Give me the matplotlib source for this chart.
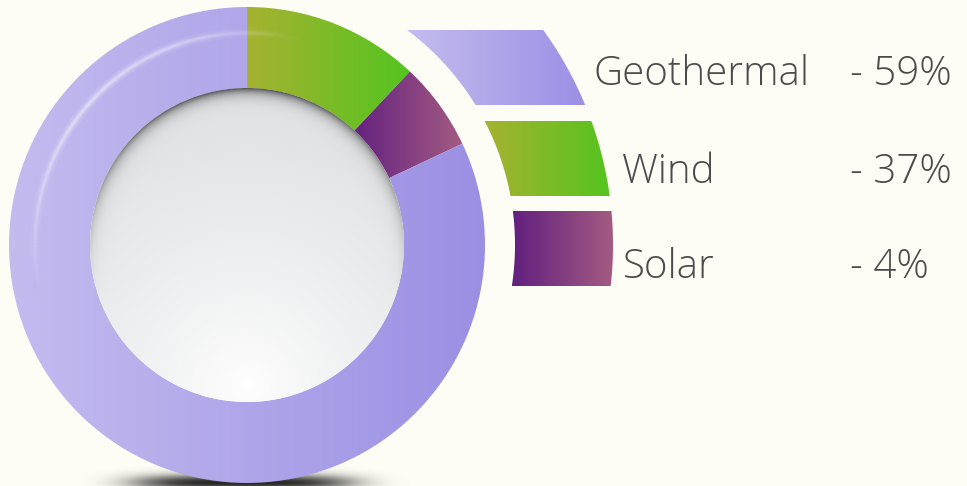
import numpy as np
import matplotlib
matplotlib.use("Agg")
import matplotlib.pyplot as plt
from matplotlib.patches import Circle, Polygon
from matplotlib.collections import LineCollection
from matplotlib.colors import to_rgb

# slice sizes as drawn in the picture (clockwise from 12 o'clock)
sources = ["Wind", "Solar", "Geothermal"]
slice_share = [12, 6, 82]
# legend text as printed
legend_names = ["Geothermal", "Wind", "Solar"]
legend_pcts = ["- 59%", "- 37%", "- 4%"]

grad = {
    "Geothermal": ("#c4bcef", "#9b8fe4"),
    "Wind": ("#a6b231", "#54c41f"),
    "Solar": ("#61207f", "#a45b82"),
}

W, H = 967, 486
BG = "#fefdf5"
cx, cy = 247, H - 245
R_out, R_in = 238, 157

fig = plt.figure(figsize=(W / 100, H / 100), dpi=100, facecolor=BG)
ax = fig.add_axes([0, 0, 1, 1])
ax.set_facecolor(BG)


def hgrad(ax, x0, x1, y0, y1, c0, c1, clip, z):
    c0, c1 = np.array(to_rgb(c0)), np.array(to_rgb(c1))
    t = np.linspace(0, 1, 256)[None, :, None]
    img = c0 + (c1 - c0) * t
    im = ax.imshow(img, extent=[x0, x1, y0, y1], origin="lower",
                   aspect="auto", zorder=z, interpolation="bilinear")
    im.set_clip_path(clip)


# soft shadow under the ring
xs = np.linspace(60, 440, 380)
ys = np.linspace(0, 40, 40)
X, Y = np.meshgrid(xs, ys)
a = np.exp(-((X - 243) / 110) ** 4 - ((Y - 3) / 8) ** 2) * 0.85
sh = np.zeros(X.shape + (4,))
sh[..., 3] = a
ax.imshow(sh, extent=[60, 440, 0, 40], origin="lower", aspect="auto", zorder=1)

# donut
wedges, _ = ax.pie(slice_share, radius=R_out, center=(cx, cy), startangle=90,
                   counterclock=False, frame=True,
                   wedgeprops=dict(width=R_out - R_in, linewidth=0))
x_ranges = {"Geothermal": (cx - R_out, cx + R_out), "Wind": (cx, 410), "Solar": (350, 463)}
for w, name in zip(wedges, sources):
    w.set_facecolor("none")
    w.set_zorder(2)
    x0, x1 = x_ranges[name]
    hgrad(ax, x0, x1, cy - R_out, cy + R_out, *grad[name], w, 2)

# gloss streak on the ring
th = np.linspace(np.radians(196), np.radians(73), 200)
r_g = 212
pts = np.column_stack([cx + r_g * np.cos(th), cy + r_g * np.sin(th)])
segs = np.stack([pts[:-1], pts[1:]], axis=1)
u = np.linspace(0, 1, len(segs))
al = np.sin(np.pi * u) ** 1.2
for lw, k in [(7, 0.12), (4, 0.18), (2, 0.3)]:
    lc = LineCollection(segs, colors=[(1, 1, 1, k * v) for v in al],
                        linewidths=lw, capstyle="butt", zorder=3)
    ax.add_collection(lc)

# inner dish
xs = np.arange(cx - R_in, cx + R_in + 1)
ys = np.arange(cy - R_in, cy + R_in + 1)
X, Y = np.meshgrid(xs, ys)
D = np.hypot(X - cx, Y - cy)
dl = np.hypot(X - cx, Y - (H - 385))
light = np.clip(dl / 250, 0, 1) ** 0.8
top = np.array(to_rgb("#e3e4e6"))
bot = np.array(to_rgb("#ffffff"))
img = bot + (top - bot) * light[..., None]
edge = R_in - D
tt = (Y - cy) / R_in
f = np.clip((tt + 0.35) / 1.35, 0, 1) ** 1.4
dark = 0.72 * f * np.exp(-np.clip(edge, 0, None) / 6)
img = img * (1 - dark[..., None])
dish = Circle((cx, cy), R_in, facecolor="none", edgecolor="none")
ax.add_patch(dish)
im = ax.imshow(img, extent=[xs[0], xs[-1], ys[0], ys[-1]], origin="lower",
               aspect="auto", zorder=4, interpolation="bilinear")
im.set_clip_path(dish)

# legend bands: parts of an outer ring cut into horizontal strips
r_a, r_b = 268, 366
strips = {"Geothermal": (30, 105), "Wind": (121, 196), "Solar": (211, 286)}
for name in legend_names:
    top_px, bot_px = strips[name]
    yy = np.linspace(H - bot_px, H - top_px, 60)
    xl = cx + np.sqrt(r_a ** 2 - (yy - cy) ** 2)
    xr = cx + np.sqrt(r_b ** 2 - (yy - cy) ** 2)
    poly = Polygon(np.vstack([np.column_stack([xl, yy]),
                              np.column_stack([xr[::-1], yy[::-1]])]),
                   closed=True, facecolor="none", edgecolor="none")
    ax.add_patch(poly)
    hgrad(ax, xl.min(), xr.max(), H - bot_px, H - top_px, *grad[name], poly, 2)

# legend text
name_x = [593, 622, 623]
base_y = [85, 183, 278]
txt = dict(fontsize=29, color="#4b4b4b", family="Open Sans", fontweight="light",
           va="baseline", ha="left", zorder=5)
for nm, pc, x, y in zip(legend_names, legend_pcts, name_x, base_y):
    ax.text(x, H - y, nm, **txt)
    ax.text(850, H - y, pc, **txt)

ax.set_xlim(0, W)
ax.set_ylim(0, H)
ax.set_aspect("equal")
ax.axis("off")
fig.savefig("out.png", dpi=100, facecolor=BG)
